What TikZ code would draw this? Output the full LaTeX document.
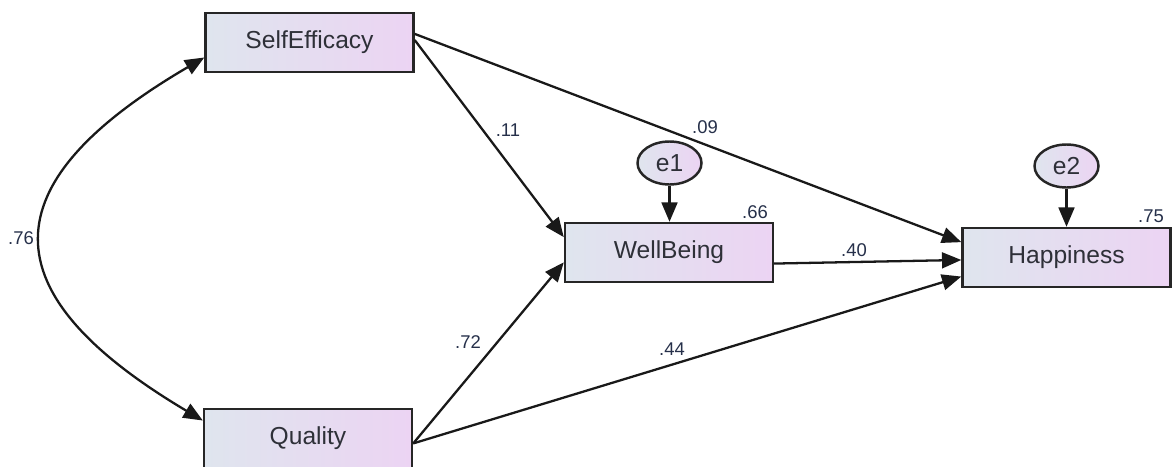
\documentclass[tikz,border=0pt]{standalone}
\usepackage{fontspec}
\setmainfont{Liberation Sans}
\usetikzlibrary{arrows.meta,calc,shapes.geometric}
\definecolor{boxleft}{HTML}{DFE5EE}
\definecolor{boxright}{HTML}{ECD4F3}
\definecolor{txt}{HTML}{2E3038}
\definecolor{lbl}{HTML}{26304A}
\tikzset{
  varbox/.style={rectangle, draw=black!85, line width=1.4pt, left color=boxleft, right color=boxright,
    minimum width=4.16cm, minimum height=1.18cm, inner sep=0pt, text=txt, font=\fontsize{14}{16}\selectfont},
  errnode/.style={ellipse, draw=black!85, line width=1.4pt, left color=boxleft, right color=boxright,
    minimum width=1.28cm, minimum height=0.86cm, inner sep=0pt, text=txt, font=\fontsize{14}{16}\selectfont},
  path/.style={draw=black!90, line width=1.3pt, -{Triangle[length=11pt,width=9pt]}},
  corr/.style={draw=black!90, line width=1.3pt, {Triangle[length=11pt,width=9pt]}-{Triangle[length=11pt,width=9pt]}},
  coef/.style={text=lbl, font=\fontsize{10.5}{12}\selectfont, inner sep=0pt}
}
\begin{document}
\begin{tikzpicture}[x=0.02cm, y=-0.02cm]
\useasboundingbox (0,0) rectangle (1175,466);
\clip (0,0) rectangle (1175,466);
\fill[white] (0,0) rectangle (1175,466);

\node[varbox] (SE) at (309.5,42.5) {\raisebox{-1.5pt}{SelfEfficacy}};
\node[varbox] (WB) at (669,252.5) {\raisebox{-1.5pt}{WellBeing}};
\node[varbox] (H) at (1066.5,257.5) {\raisebox{-1.5pt}{Happiness}};
\node[varbox] (Q) at (308,438.5) {\raisebox{-1.5pt}{Quality}};
\node[errnode] (e1) at (669.5,163) {e1};
\node[errnode] (e2) at (1066.5,166) {e2};

% paths
\draw[path] ($(SE.north east)!0.46!(SE.south east)$) -- ($(WB.north west)!0.25!(WB.south west)$);
\draw[path] ($(SE.north east)!0.36!(SE.south east)$) -- ($(H.north west)!0.25!(H.south west)$);
\draw[path] ($(Q.north east)!0.58!(Q.south east)$) -- ($(WB.north west)!0.66!(WB.south west)$);
\draw[path] ($(Q.north east)!0.58!(Q.south east)$) -- ($(H.north west)!0.81!(H.south west)$);
\draw[path] ($(WB.north east)!0.68!(WB.south east)$) -- ($(H.north west)!0.54!(H.south west)$);
\draw[path] (e1.south) -- (WB.north -| e1.south);
\draw[path] (e2.south) -- (H.north -| e2.south);

% correlation
\draw[corr] ([yshift=-0.3cm]SE.west) .. controls (-12,184) and (-12,293) .. ([yshift=0.36cm]Q.west);

% coefficients
\node[coef] (c76) at (21,238) {.76};
\node[coef] (c11) at (508,130) {.11};
\node[coef] (c09) at (705,127) {.09};
\node[coef] (c66) at (755,212) {.66};
\node[coef] (c75) at (1151,216) {.75};
\node[coef] (c40) at (854,250) {.40};
\node[coef] (c72) at (468,342) {.72};
\node[coef] (c44) at (672,349) {.44};
\end{tikzpicture}
\end{document}
